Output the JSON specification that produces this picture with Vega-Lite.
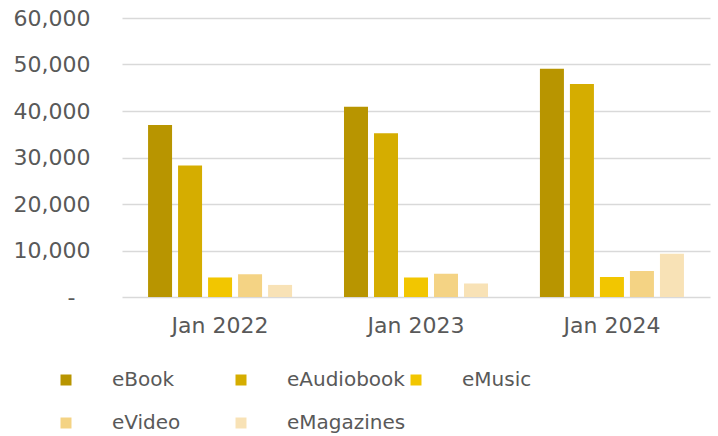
{
  "$schema": "https://vega.github.io/schema/vega-lite/v6.json",
  "autosize": "none",
  "width": 588,
  "height": 279,
  "padding": {"left": 122, "top": 18, "right": 8, "bottom": 139},
  "background": "white",
  "data": {
    "values": [
      {"period": "Jan 2022", "format": "eBook", "value": 37000},
      {"period": "Jan 2022", "format": "eAudiobook", "value": 28300},
      {"period": "Jan 2022", "format": "eMusic", "value": 4200},
      {"period": "Jan 2022", "format": "eVideo", "value": 4900},
      {"period": "Jan 2022", "format": "eMagazines", "value": 2600},
      {"period": "Jan 2023", "format": "eBook", "value": 40900},
      {"period": "Jan 2023", "format": "eAudiobook", "value": 35200},
      {"period": "Jan 2023", "format": "eMusic", "value": 4200},
      {"period": "Jan 2023", "format": "eVideo", "value": 5000},
      {"period": "Jan 2023", "format": "eMagazines", "value": 2900},
      {"period": "Jan 2024", "format": "eBook", "value": 49100},
      {"period": "Jan 2024", "format": "eAudiobook", "value": 45800},
      {"period": "Jan 2024", "format": "eMusic", "value": 4300},
      {"period": "Jan 2024", "format": "eVideo", "value": 5600},
      {"period": "Jan 2024", "format": "eMagazines", "value": 9300}
    ]
  },
  "mark": {"type": "bar"},
  "encoding": {
    "x": {
      "field": "period",
      "type": "nominal",
      "scale": {"paddingInner": 0.265, "paddingOuter": 0.133},
      "axis": {
        "title": null,
        "labelAngle": 0,
        "domain": false,
        "ticks": false,
        "tickSize": 0,
        "labelPadding": 18,
        "labelFont": "DejaVu Sans",
        "labelFontSize": 22,
        "labelColor": "#595959"
      }
    },
    "xOffset": {
      "field": "format",
      "type": "nominal",
      "sort": ["eBook", "eAudiobook", "eMusic", "eVideo", "eMagazines"],
      "scale": {"paddingInner": 0.2, "paddingOuter": 0}
    },
    "y": {
      "field": "value",
      "type": "quantitative",
      "scale": {"domain": [0, 60000], "nice": false},
      "axis": {
        "title": null,
        "values": [0, 10000, 20000, 30000, 40000, 50000, 60000],
        "labelExpr": "datum.value === 0 ? '-' : format(datum.value, ',')",
        "domain": false,
        "ticks": false,
        "tickSize": 0,
        "labelPadding": {"condition": {"test": "datum.value === 0", "value": 47}, "value": 32},
        "labelFont": "DejaVu Sans",
        "labelFontSize": 22,
        "labelColor": "#595959",
        "gridColor": "#d9d9d9",
        "gridWidth": 1.5
      }
    },
    "color": {
      "field": "format",
      "type": "nominal",
      "sort": ["eBook", "eAudiobook", "eMusic", "eVideo", "eMagazines"],
      "scale": {
        "domain": ["eBook", "eAudiobook", "eMusic", "eVideo", "eMagazines"],
        "range": ["#B89500", "#D5AD00", "#F2C600", "#F4D384", "#F8E2B6"]
      },
      "legend": {
        "title": null,
        "orient": "none",
        "legendX": -66,
        "legendY": 352,
        "direction": "horizontal",
        "columns": 3,
        "gridAlign": "all",
        "symbolType": "square",
        "symbolSize": 121,
        "symbolStrokeWidth": 0,
        "labelOffset": 36,
        "columnPadding": -6,
        "rowPadding": 23,
        "padding": 0,
        "labelFont": "DejaVu Sans",
        "labelFontSize": 20,
        "labelColor": "#595959",
        "labelLimit": 300
      }
    }
  },
  "config": {
    "view": {"stroke": null}
  }
}
